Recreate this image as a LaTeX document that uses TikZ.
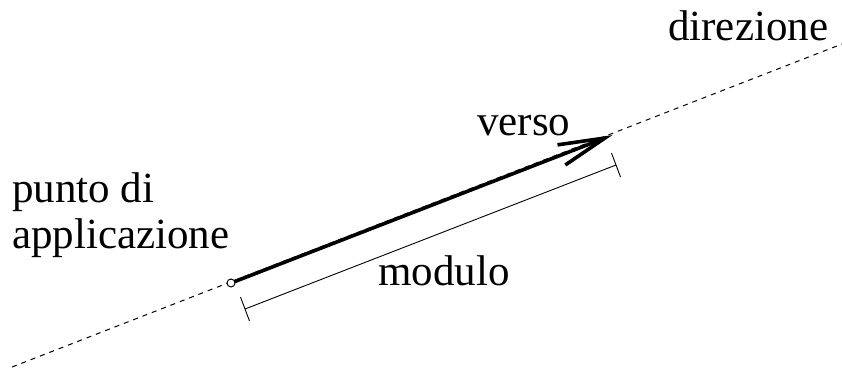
\documentclass[tikz,border=0pt]{standalone}
\usepackage{fontspec}
\setmainfont{Liberation Serif}
\usetikzlibrary{calc}
\begin{document}
\begin{tikzpicture}[x=1pt,y=-1pt,
  lbl/.style={anchor=base west,inner sep=0pt,font=\fontsize{43}{50}\selectfont},
  dirline/.style={line width=1pt,dash pattern=on 5pt off 5pt},
  vec/.style={line width=3.6pt},
  barb/.style={line width=3.6pt,line join=miter,miter limit=20},
  dim/.style={line width=0.9pt}]
\useasboundingbox (0,0) rectangle (842,370);
\coordinate (L) at (12,367);
\coordinate (R) at (842,44);
\coordinate (A) at (231,283);
\coordinate (B) at (605,138);
\coordinate (D1) at (245,309);
\coordinate (D2) at (616,165);
\draw[dirline] (L) -- (R);
\coordinate (b1) at ($(B)!48pt!13:(A)$);
\coordinate (b2) at ($(B)!48pt!-13:(A)$);
\coordinate (Bs) at ($(B)!6pt!(A)$);
\draw[vec] (A) -- (Bs);
\draw[barb] (b1) -- (B) -- (b2);
\node[circle,draw,fill=white,line width=1pt,minimum size=8pt,inner sep=0pt] (P) at (A) {};
\draw[dim] (D1) -- (D2);
\draw[dim] ($(D1)+(-4.5,-12)$) coordinate (t1) -- ($(D1)+(4.5,12)$) coordinate (t2);
\draw[dim] ($(D2)+(-4.5,-12)$) coordinate (t3) -- ($(D2)+(4.5,12)$) coordinate (t4);
\node[lbl] (dir) at (668,40) {direzione};
\node[lbl] (pd) at (12,202) {punto di};
\node[lbl] (app) at (12,248) {applicazione};
\node[lbl] (ver) at (477,135) {verso};
\node[lbl] (mod) at (378,285) {modulo};
\end{tikzpicture}
\end{document}
